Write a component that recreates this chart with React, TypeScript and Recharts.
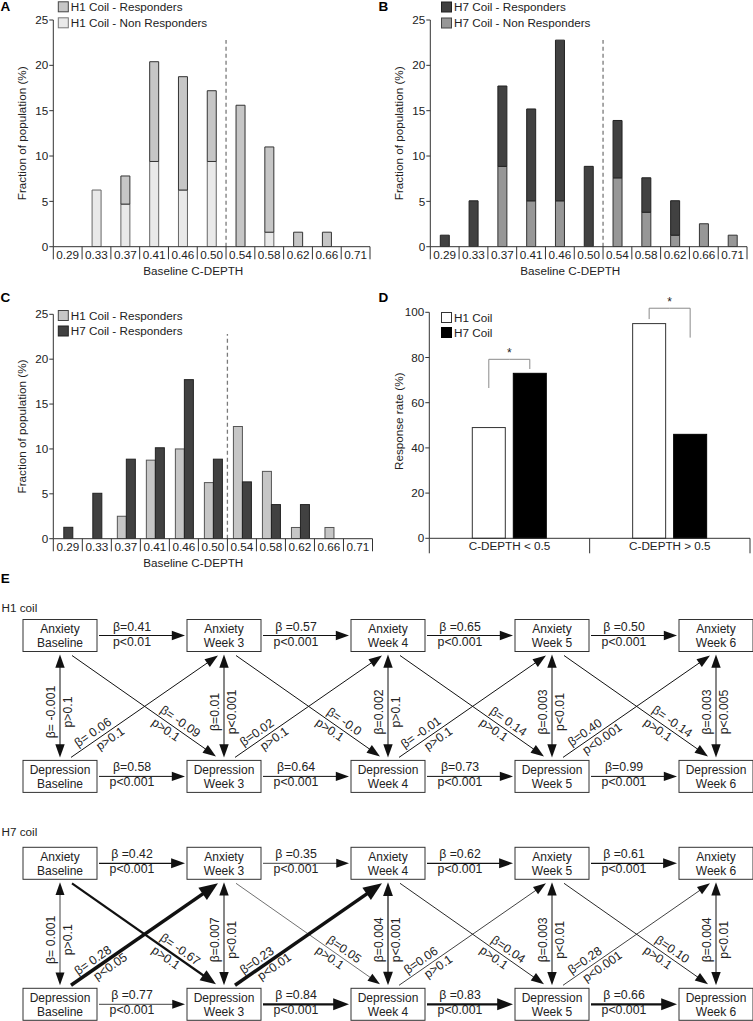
import React from 'react';
import { BarChart, Bar, XAxis, YAxis, ReferenceLine, ScatterChart, Scatter } from 'recharts';

const FONT = '"Liberation Sans", Arial, Helvetica, sans-serif';
const INK = '#222';
const AXIS = '#333';

// ---------- Panels A–C: histogram data (% of population) ----------
const depthCats = ['0.29', '0.33', '0.37', '0.41', '0.46', '0.50', '0.54', '0.58', '0.62', '0.66', '0.71'];
const h1Responders = [0, 0, 3.1, 11.0, 12.5, 7.8, 15.6, 9.4, 1.6, 1.6, 0];
const h1NonResponders = [0, 6.25, 4.7, 9.4, 6.25, 9.4, 0, 1.6, 0, 0, 0];
const h7Responders = [1.27, 5.06, 8.86, 10.13, 17.72, 8.86, 6.33, 3.8, 3.8, 0, 0];
const h7NonResponders = [0, 0, 8.86, 5.06, 5.06, 0, 7.59, 3.8, 1.27, 2.53, 1.27];
const h1RespShare = [0, 0, 2.5, 8.75, 10, 6.25, 12.5, 7.5, 1.25, 1.25, 0];
const h7RespShare = [1.27, 5.06, 8.86, 10.13, 17.72, 8.86, 6.33, 3.8, 3.8, 0, 0];
const histTicks = [0, 5, 10, 15, 20, 25];
const cutoffCategory = '0.54'; // dashed cut-off drawn at the start of this bin (C-DEPTH = 0.5)
const cutoffTop = 22.8;

// ---------- Panel D ----------
const dGroups = ['C-DEPTH < 0.5', 'C-DEPTH > 0.5'];
const dH1Rate = [49, 95];
const dH7Rate = [73, 46];
const dBracketTop = [79.2, 101.8];
const dBracketLegH1 = [66.5, 97];
const dBracketLegH7 = [74.9, 88.8];
const dTicks = [0, 20, 40, 60, 80, 100];

// ---------- Panel E: cross-lagged path models ----------
const weeks = ['Baseline', 'Week 3', 'Week 4', 'Week 5', 'Week 6'];
const measures = ['Anxiety', 'Depression'];

const h1AnxPath = [['β=0.41', 'p<0.01'], ['β =0.57', 'p<0.001'], ['β =0.65', 'p<0.001'], ['β =0.50', 'p<0.001']];
const h1DepPath = [['β=0.58', 'p<0.001'], ['β=0.64', 'p<0.001'], ['β=0.73', 'p<0.001'], ['β=0.99', 'p<0.001']];
const h1Cross = [['β= -0.001', 'p>0.1'], ['β=0.01', 'p<0.001'], ['β=0.002', 'p>0.1'], ['β=0.003', 'p<0.01'], ['β=0.003', 'p<0.005']];
const h1AnxToDep = [['β= -0.09', 'p>0.1'], ['β= -0.0', 'p>0.1'], ['β= 0.14', 'p>0.1'], ['β= -0.14', 'p>0.1']];
const h1DepToAnx = [['β= 0.06', 'p>0.1'], ['β=0.02', 'p>0.1'], ['β= -0.01', 'p>0.1'], ['β=0.40', 'p<0.001']];
const h1AnxW = [1, 1, 1, 1];
const h1DepW = [1, 1, 1, 1];
const h1CrossW = [1, 1, 1, 1, 1];
const h1AnxToDepW = [1, 1, 1, 1];
const h1DepToAnxW = [1, 1, 1, 1];

const h7AnxPath = [['β =0.42', 'p<0.001'], ['β =0.35', 'p<0.001'], ['β =0.62', 'p<0.001'], ['β =0.61', 'p<0.001']];
const h7DepPath = [['β =0.77', 'p<0.001'], ['β =0.84', 'p<0.001'], ['β =0.83', 'p<0.001'], ['β =0.66', 'p<0.001']];
const h7Cross = [['β= 0.001', 'p>0.1'], ['β=0.007', 'p<0.01'], ['β=0.004', 'p<0.001'], ['β=0.003', 'p<0.01'], ['β=0.004', 'p<0.01']];
const h7AnxToDep = [['β= -0.67', 'p>0.1'], ['β=0.05', 'p>0.1'], ['β=0.04', 'p>0.1'], ['β=0.10', 'p>0.1']];
const h7DepToAnx = [['β= 0.28', 'p<0.05'], ['β=0.23', 'p<0.01'], ['β=0.06', 'p>0.1'], ['β=0.28', 'p<0.001']];
const h7AnxW = [1.3, 0.8, 1.3, 1.3];
const h7DepW = [0.8, 2.2, 2.2, 2.2];
const h7CrossW = [0.8, 1, 1.2, 1, 1];
const h7AnxToDepW = [2.2, 0.6, 0.9, 0.9];
const h7DepToAnxW = [3.5, 3.5, 0.8, 0.8];

// ---------- colours ----------
const C_H1R = '#c6c6c6';
const C_H1N = '#e9e9e9';
const C_H7R = '#414141';
const C_H7N = '#979797';

type Frame = { W: number; H: number; pl: number; pr: number; pt: number; pb: number };

const boxTick = (bw: number, n: number, sepLen: number, textDy: number) => (props: any) => {
  const { x, y, payload } = props;
  const index = payload && typeof payload.index === 'number' ? payload.index : props.index;
  return (
    <g>
      <line x1={x - bw / 2} x2={x - bw / 2} y1={y} y2={y + sepLen} stroke={AXIS} strokeWidth={1} />
      {index === n - 1 && <line x1={x + bw / 2} x2={x + bw / 2} y1={y} y2={y + sepLen} stroke={AXIS} strokeWidth={1} />}
      <text x={x} y={y + textDy} textAnchor="middle" fontSize={11.7} fill={INK}>{payload.value}</text>
    </g>
  );
};

const xTitle = (title: string, x: number, y: number) => ({
  content: () => (
    <text x={x} y={y} textAnchor="middle" fontSize={11.7} fill={INK}>{title}</text>
  ),
});

const yTitle = (title: string, x: number, y: number) => ({
  content: () => (
    <text x={x} y={y} transform={`rotate(-90 ${x} ${y})`} textAnchor="middle" dominantBaseline="central" fontSize={11.7} fill={INK}>{title}</text>
  ),
});

function histCommon(f: Frame, xt: string, yt: string) {
  const n = depthCats.length;
  const bw = (f.pr - f.pl) / n;
  return [
    <XAxis key="x" dataKey="cat" type="category" interval={0} height={f.H - f.pb} tickLine={false} tickSize={0} tickMargin={0}
      stroke={AXIS} tick={boxTick(bw, n, 12.6, 12.3)} label={xTitle(xt, f.pl + 140, f.pb + 28.5)} />,
    <YAxis key="y" type="number" domain={[0, 25]} ticks={histTicks} tickCount={6} allowDataOverflow width={f.pl} tickSize={4} tickMargin={1}
      stroke={AXIS} tick={{ fontSize: 11.7, fill: INK }} label={yTitle(yt, f.pl - 31.5, (f.pt + f.pb) / 2)} />,
    <ReferenceLine key="cut" segment={[{ x: cutoffCategory, y: 0 }, { x: cutoffCategory, y: cutoffTop }]} position="start"
      stroke="#7a7a7a" strokeWidth={1.3} strokeDasharray="4 3" ifOverflow="visible" />,
  ];
}

const frameA: Frame = { W: 376, H: 282, pl: 53.3, pr: 370, pt: 20, pb: 246.7 };
const frameB: Frame = { W: 377, H: 282, pl: 54.3, pr: 371, pt: 20, pb: 246.7 };
const frameC: Frame = { W: 376, H: 292, pl: 53.3, pr: 372.5, pt: 34.3, pb: 258.7 };
const frameD: Frame = { W: 377, H: 300, pl: 53.3, pr: 374, pt: 32.3, pb: 258.3 };

const margins = (f: Frame) => ({ top: f.pt, right: f.W - f.pr, bottom: 0, left: 0 });

function PanelA() {
  const data = depthCats.map((cat, i) => ({ cat, resp: h1Responders[i], non: h1NonResponders[i] }));
  const f = frameA;
  return (
    <BarChart width={f.W} height={f.H} data={data} margin={margins(f)} barSize={9}>
      {histCommon(f, 'Baseline C-DEPTH', 'Fraction of population (%)')}
      <Bar dataKey="non" stackId="s" fill={C_H1N} stroke="#666" strokeWidth={1} isAnimationActive={false} />
      <Bar dataKey="resp" stackId="s" fill={C_H1R} stroke="#333" strokeWidth={1} isAnimationActive={false} />
    </BarChart>
  );
}

function PanelB() {
  const data = depthCats.map((cat, i) => ({ cat, resp: h7Responders[i], non: h7NonResponders[i] }));
  const f = frameB;
  return (
    <BarChart width={f.W} height={f.H} data={data} margin={margins(f)} barSize={9}>
      {histCommon(f, 'Baseline C-DEPTH', 'Fraction of population (%)')}
      <Bar dataKey="non" stackId="s" fill={C_H7N} stroke="#333" strokeWidth={1} isAnimationActive={false} />
      <Bar dataKey="resp" stackId="s" fill={C_H7R} stroke="#222" strokeWidth={1} isAnimationActive={false} />
    </BarChart>
  );
}

const clusterShape = (fill: string, stroke: string, otherKey: string, dir: number) => (props: any) => {
  const { x, y, width, height, payload } = props;
  if (!height || height <= 0) return <g />;
  const shift = payload && payload[otherKey] ? 0 : (dir * width) / 2;
  return <rect x={x + shift} y={y} width={width} height={height} fill={fill} stroke={stroke} strokeWidth={1} />;
};

function PanelC() {
  const data = depthCats.map((cat, i) => ({ cat, h1: h1RespShare[i], h7: h7RespShare[i] }));
  const f = frameC;
  return (
    <BarChart width={f.W} height={f.H} data={data} margin={margins(f)} barSize={9} barGap={0}>
      {histCommon(f, 'Baseline C-DEPTH', 'Fraction of population (%)')}
      <Bar dataKey="h1" fill={C_H1R} shape={clusterShape(C_H1R, '#555', 'h7', 1)} isAnimationActive={false} />
      <Bar dataKey="h7" fill={C_H7R} shape={clusterShape(C_H7R, '#222', 'h1', -1)} isAnimationActive={false} />
    </BarChart>
  );
}

const D_GAP = 8;
const dBarShape = (series: 'h1' | 'h7') => (props: any) => {
  const { x, y, width, height, payload } = props;
  let index = props.index;
  if (typeof index !== 'number') index = dGroups.indexOf(payload.group);
  const v = series === 'h1' ? payload.h1 : payload.h7;
  const ppu = height / v;
  const base = y + height;
  const py = (val: number) => base - val * ppu;
  const cx = x + width / 2;
  const half = (width + D_GAP) / 2;
  const top = py(dBracketTop[index]);
  const leg = py(series === 'h1' ? dBracketLegH1[index] : dBracketLegH7[index]);
  const hx = series === 'h1' ? cx + half : cx - half;
  return (
    <g>
      <rect x={x} y={y} width={width} height={height}
        fill={series === 'h1' ? '#fff' : '#000'} stroke={series === 'h1' ? '#333' : '#000'} strokeWidth={1} />
      <polyline points={`${cx},${leg} ${cx},${top} ${hx},${top}`} fill="none" stroke="#8a8a8a" strokeWidth={1} />
      {series === 'h1' && (
        <text x={cx + half} y={top - 2} textAnchor="middle" fontSize={12} fill={INK}>*</text>
      )}
    </g>
  );
};

const dTick = (bw: number, n: number) => (props: any) => {
  const { x, y, payload } = props;
  const index = payload && typeof payload.index === 'number' ? payload.index : props.index;
  return (
    <g>
      <line x1={x - bw / 2} x2={x - bw / 2} y1={y} y2={y + 15} stroke={AXIS} strokeWidth={1} />
      {index === n - 1 && <line x1={x + bw / 2} x2={x + bw / 2} y1={y} y2={y + 15} stroke={AXIS} strokeWidth={1} />}
      <text x={x} y={y + 12} textAnchor="middle" fontSize={11.7} fill={INK}>{payload.value}</text>
    </g>
  );
};

function PanelD() {
  const data = dGroups.map((group, i) => ({ group, h1: dH1Rate[i], h7: dH7Rate[i] }));
  const f = frameD;
  const bw = (f.pr - f.pl) / dGroups.length;
  return (
    <BarChart width={f.W} height={f.H} data={data} margin={margins(f)} barSize={33} barGap={D_GAP}>
      <XAxis dataKey="group" type="category" interval={0} height={f.H - f.pb} tickLine={false} tickSize={0} tickMargin={0}
        stroke={AXIS} tick={dTick(bw, dGroups.length)} />
      <YAxis type="number" domain={[0, 100]} ticks={dTicks} tickCount={6} width={f.pl} tickSize={4} tickMargin={1}
        stroke={AXIS} tick={{ fontSize: 11.7, fill: INK }} label={yTitle('Response rate (%)', f.pl - 31, (f.pt + f.pb) / 2 - 4)} />
      <Bar dataKey="h1" fill="#fff" shape={dBarShape('h1')} isAnimationActive={false} />
      <Bar dataKey="h7" fill="#000" shape={dBarShape('h7')} isAnimationActive={false} />
    </BarChart>
  );
}

// ---------- Panel E ----------
const BOX_W = 74;
const BOX_H = 32;
type Kind = 'h' | 'v' | 'down' | 'up';

const edgeShape = (kind: Kind, beta: string, p: string, w: number) => (props: any) => {
  const { x1, y1, x2, y2 } = props;
  const hw = BOX_W / 2;
  const hh = BOX_H / 2;
  let sx = 0, sy = 0, ex = 0, ey = 0;
  if (kind === 'h') { sx = x1 + hw + 2; ex = x2 - hw - 2; sy = y1; ey = y2; }
  else if (kind === 'v') { sx = x1; ex = x2; sy = y1 + hh + 3; ey = y2 - hh - 3; }
  else if (kind === 'down') { sx = x1 + 12; sy = y1 + hh + 4; ex = x2 - 8; ey = y2 - hh - 4; }
  else { sx = x1 + 11; sy = y1 - hh - 3; ex = x2 - 6; ey = y2 + hh + 4; }
  const dx = ex - sx, dy = ey - sy;
  const len = Math.hypot(dx, dy) || 1;
  const ux = dx / len, uy = dy / len;
  const nx = -uy, ny = ux;
  const L = 11 + 2.2 * w;
  const H = 3.6 + 1.1 * w;
  const head = (tx: number, ty: number, dirx: number, diry: number) => {
    const bx = tx - dirx * L, by = ty - diry * L;
    return `${tx},${ty} ${bx + nx * H},${by + ny * H} ${bx - nx * H},${by - ny * H}`;
  };
  const lx1 = kind === 'v' ? sx + ux * L * 0.8 : sx;
  const ly1 = kind === 'v' ? sy + uy * L * 0.8 : sy;
  const lx2 = ex - ux * L * 0.8;
  const ly2 = ey - uy * L * 0.8;
  const col = '#111';
  let labels: React.ReactNode = null;
  const ts = { fontSize: 12.3, fill: INK } as any;
  if (kind === 'h') {
    const mx = (x1 + x2) / 2 - 10;
    labels = (
      <>
        <text x={mx} y={sy - 5} textAnchor="middle" {...ts}>{beta}</text>
        <text x={mx} y={sy + 10} textAnchor="middle" {...ts}>{p}</text>
      </>
    );
  } else if (kind === 'v') {
    const my = (sy + ey) / 2 + 6;
    const bx = sx - 5, px = sx + 12;
    labels = (
      <>
        <text x={bx} y={my} transform={`rotate(-90 ${bx} ${my})`} textAnchor="middle" {...ts}>{beta}</text>
        <text x={px} y={my} transform={`rotate(-90 ${px} ${my})`} textAnchor="middle" {...ts}>{p}</text>
      </>
    );
  } else {
    const ang = Math.atan2(dy, dx);
    const deg = (ang * 180) / Math.PI;
    const upx = Math.sin(ang), upy = -Math.cos(ang);
    const tb = kind === 'down' ? 0.72 : 0.18;
    const tp = kind === 'down' ? 0.68 : 0.24;
    const bx = sx + dx * tb + upx * 4, by = sy + dy * tb + upy * 4;
    const px = sx + dx * tp - upx * 11, py = sy + dy * tp - upy * 11;
    labels = (
      <>
        <text x={bx} y={by} transform={`rotate(${deg} ${bx} ${by})`} textAnchor="middle" {...ts}>{beta}</text>
        <text x={px} y={py} transform={`rotate(${deg} ${px} ${py})`} textAnchor="middle" {...ts}>{p}</text>
      </>
    );
  }
  return (
    <g>
      <line x1={lx1} y1={ly1} x2={lx2} y2={ly2} stroke={col} strokeWidth={w} />
      <polygon points={head(ex, ey, ux, uy)} fill={col} />
      {kind === 'v' && <polygon points={head(sx, sy, -ux, -uy)} fill={col} />}
      {labels}
    </g>
  );
};

const nodeShape = (props: any) => {
  const { cx, cy, payload } = props;
  return (
    <g>
      <rect x={cx - BOX_W / 2} y={cy - BOX_H / 2} width={BOX_W} height={BOX_H} fill="#fff" stroke="#333" strokeWidth={1} />
      <text x={cx} y={cy - 2.5} textAnchor="middle" fontSize={12} fill={INK}>{payload.measure}</text>
      <text x={cx} y={cy + 11.5} textAnchor="middle" fontSize={12} fill={INK}>{payload.week}</text>
    </g>
  );
};

type PathProps = {
  height: number; mTop: number; mBottom: number;
  anx: string[][]; dep: string[][]; cross: string[][]; a2d: string[][]; d2a: string[][];
  wAnx: number[]; wDep: number[]; wCross: number[]; wA2d: number[]; wD2a: number[];
};

function PathDiagram(pp: PathProps) {
  const nodes = weeks.flatMap((week, i) => measures.map((measure, r) => ({ x: i, y: r, measure, week })));
  return (
    <ScatterChart width={753} height={pp.height} margin={{ top: pp.mTop, right: 37, bottom: pp.mBottom, left: 60 }}>
      <XAxis type="number" dataKey="x" domain={[0, 4]} tickCount={5} hide />
      <YAxis type="number" dataKey="y" domain={[0, 1]} tickCount={5} reversed hide />
      {pp.anx.map((e, i) => (
        <ReferenceLine key={`a${i}`} segment={[{ x: i, y: 0 }, { x: i + 1, y: 0 }]} ifOverflow="visible" shape={edgeShape('h', e[0], e[1], pp.wAnx[i])} />
      ))}
      {pp.dep.map((e, i) => (
        <ReferenceLine key={`d${i}`} segment={[{ x: i, y: 1 }, { x: i + 1, y: 1 }]} ifOverflow="visible" shape={edgeShape('h', e[0], e[1], pp.wDep[i])} />
      ))}
      {pp.cross.map((e, i) => (
        <ReferenceLine key={`c${i}`} segment={[{ x: i, y: 0 }, { x: i, y: 1 }]} ifOverflow="visible" shape={edgeShape('v', e[0], e[1], pp.wCross[i])} />
      ))}
      {pp.a2d.map((e, i) => (
        <ReferenceLine key={`ad${i}`} segment={[{ x: i, y: 0 }, { x: i + 1, y: 1 }]} ifOverflow="visible" shape={edgeShape('down', e[0], e[1], pp.wA2d[i])} />
      ))}
      {pp.d2a.map((e, i) => (
        <ReferenceLine key={`da${i}`} segment={[{ x: i, y: 1 }, { x: i + 1, y: 0 }]} ifOverflow="visible" shape={edgeShape('up', e[0], e[1], pp.wD2a[i])} />
      ))}
      <Scatter data={nodes} shape={nodeShape} isAnimationActive={false} />
    </ScatterChart>
  );
}

// ---------- overlay: panel letters, legends, sub-titles ----------
type LegendItem = { label: string; fill: string; stroke: string };
const legendA: LegendItem[] = [
  { label: 'H1 Coil - Responders', fill: C_H1R, stroke: '#444' },
  { label: 'H1 Coil - Non Responders', fill: C_H1N, stroke: '#777' },
];
const legendB: LegendItem[] = [
  { label: 'H7 Coil - Responders', fill: C_H7R, stroke: '#222' },
  { label: 'H7 Coil - Non Responders', fill: C_H7N, stroke: '#444' },
];
const legendC: LegendItem[] = [
  { label: 'H1 Coil - Responders', fill: C_H1R, stroke: '#444' },
  { label: 'H7 Coil - Responders', fill: C_H7R, stroke: '#222' },
];
const legendD: LegendItem[] = [
  { label: 'H1 Coil', fill: '#fff', stroke: '#333' },
  { label: 'H7 Coil', fill: '#000', stroke: '#000' },
];

function LegendBlock({ items, x, y0, dy }: { items: LegendItem[]; x: number; y0: number; dy: number }) {
  return (
    <g>
      {items.map((it, i) => {
        const cy = y0 + i * dy;
        return (
          <g key={it.label}>
            <rect x={x} y={cy - 5} width={10} height={10} fill={it.fill} stroke={it.stroke} strokeWidth={1} />
            <text x={x + 12.5} y={cy + 4.2} fontSize={11.7} fill={INK}>{it.label}</text>
          </g>
        );
      })}
    </g>
  );
}

function Overlay() {
  const letter = (t: string, x: number, y: number) => (
    <text key={t} x={x} y={y} fontSize={13.5} fontWeight="bold" fill="#000">{t}</text>
  );
  return (
    <svg width={753} height={1021} style={{ position: 'absolute', left: 0, top: 0, pointerEvents: 'none' }}>
      {letter('A', 0.5, 10.5)}
      {letter('B', 378.5, 10.5)}
      {letter('C', 0.5, 301.8)}
      {letter('D', 378.5, 301.8)}
      {letter('E', 0.8, 582.8)}
      <text x={1.5} y={611.7} fontSize={11.7} fill={INK}>H1 coil</text>
      <text x={1.5} y={835.7} fontSize={11.7} fill={INK}>H7 coil</text>
      <LegendBlock items={legendA} x={58.3} y0={6.8} dy={16} />
      <LegendBlock items={legendB} x={441.5} y0={7} dy={16} />
      <LegendBlock items={legendC} x={58.3} y0={315.5} dy={15.5} />
      <LegendBlock items={legendD} x={441.5} y0={317.5} dy={15} />
    </svg>
  );
}

export default function App() {
  return (
    <div style={{ position: 'absolute', left: 0, top: 0, width: 753, height: 1021, background: '#fff', fontFamily: FONT, overflow: 'hidden' }}>
      <div style={{ position: 'absolute', left: 0, top: 0 }}><PanelA /></div>
      <div style={{ position: 'absolute', left: 376, top: 0 }}><PanelB /></div>
      <div style={{ position: 'absolute', left: 0, top: 280 }}><PanelC /></div>
      <div style={{ position: 'absolute', left: 376, top: 280 }}><PanelD /></div>
      <div style={{ position: 'absolute', left: 0, top: 595 }}>
        <PathDiagram height={220} mTop={40.5} mBottom={38.6}
          anx={h1AnxPath} dep={h1DepPath} cross={h1Cross} a2d={h1AnxToDep} d2a={h1DepToAnx}
          wAnx={h1AnxW} wDep={h1DepW} wCross={h1CrossW} wA2d={h1AnxToDepW} wD2a={h1DepToAnxW} />
      </div>
      <div style={{ position: 'absolute', left: 0, top: 823 }}>
        <PathDiagram height={198} mTop={40.3} mBottom={16.7}
          anx={h7AnxPath} dep={h7DepPath} cross={h7Cross} a2d={h7AnxToDep} d2a={h7DepToAnx}
          wAnx={h7AnxW} wDep={h7DepW} wCross={h7CrossW} wA2d={h7AnxToDepW} wD2a={h7DepToAnxW} />
      </div>
      <Overlay />
    </div>
  );
}
